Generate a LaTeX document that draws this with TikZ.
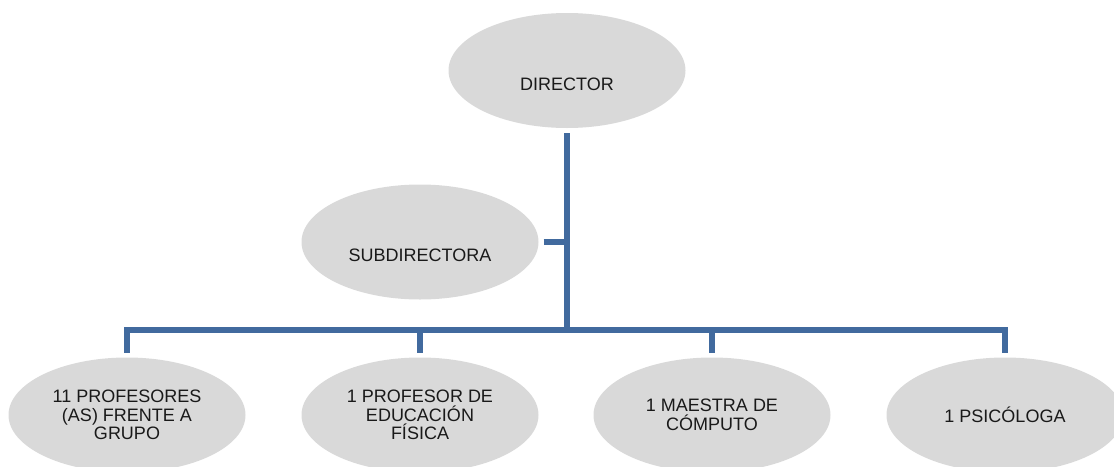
\documentclass[tikz,border=0pt]{standalone}
\usepackage{fontspec}
\setmainfont{Liberation Sans}
\usetikzlibrary{shapes.geometric}

\definecolor{linkblue}{RGB}{65,106,158}
\definecolor{unitgray}{RGB}{217,217,217}

\begin{document}
\begin{tikzpicture}[x=1pt,y=-1pt,unit/.style={ellipse,fill=unitgray,minimum width=237pt,minimum height=115pt,inner sep=0pt,outer sep=5pt,align=center,font=\fontsize{18}{18.5}\selectfont,text=black!90}, upper/.style={unit,text height=39pt,text depth=0pt},link/.style={line width=6pt,draw=linkblue}]
\useasboundingbox (0,0) rectangle (1114,466);

\node(dir)[upper] at (567,70.5){DIRECTOR};
\node(sub)[upper] at (420,242){SUBDIRECTORA};

\node(g1)[unit] at (127,415){11 PROFESORES\\(AS) FRENTE A\\GRUPO};
\node(g2)[unit] at (420,415){1 PROFESOR DE\\EDUCACIÓN\\FÍSICA};
\node(g3)[unit] at (712,415){1 MAESTRA DE\\CÓMPUTO};
\node(g4)[unit] at (1005,415){1 PSICÓLOGA};

\coordinate(bus) at (567,330);

\draw [link] (dir.south) to (bus);
\draw [link] (sub.east) to (sub.east -| bus);
\draw [link] (g1.north) |- (g4.north |- bus) to (g4.north);
\draw [link] (g2.north) to (g2.north |- bus);
\draw [link] (g3.north) to (g3.north |- bus);
\end{tikzpicture}
\end{document}
